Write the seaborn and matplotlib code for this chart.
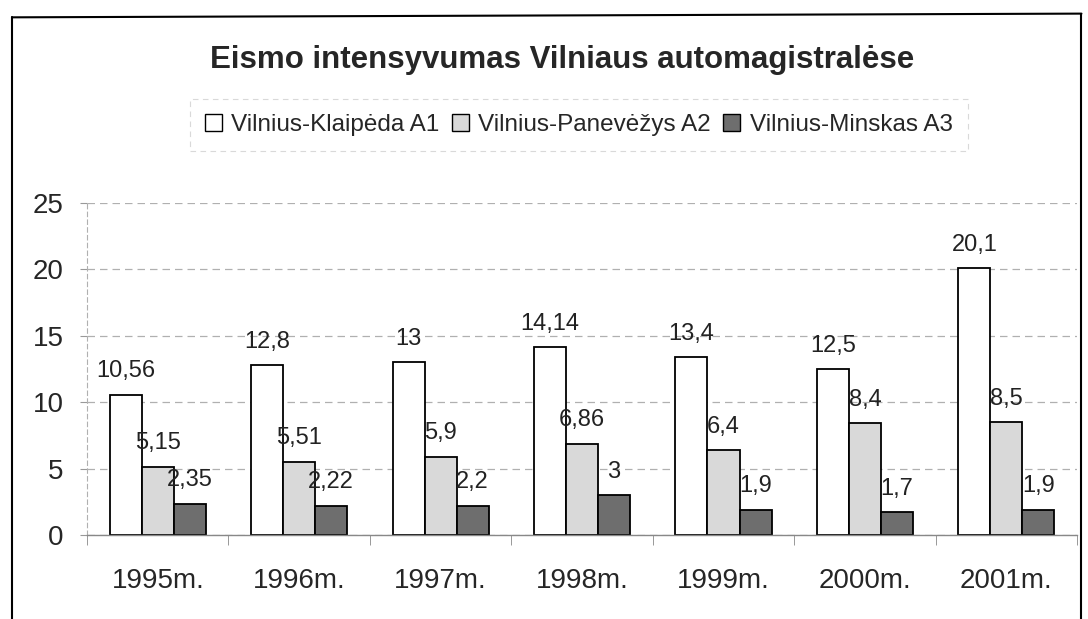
"""Eismo intensyvumas Vilniaus automagistralėse - grouped bar chart."""

import matplotlib

matplotlib.use("Agg")

import matplotlib.pyplot as plt
import pandas as pd
import seaborn as sns
from matplotlib.lines import Line2D
from matplotlib.patches import Patch

YEARS = ["1995m.", "1996m.", "1997m.", "1998m.", "1999m.", "2000m.", "2001m."]
SERIES = ["Vilnius-Klaipėda A1", "Vilnius-Panevėžys A2", "Vilnius-Minskas A3"]
A1 = [10.56, 12.8, 13, 14.14, 13.4, 12.5, 20.1]
A2 = [5.15, 5.51, 5.9, 6.86, 6.4, 8.4, 8.5]
A3 = [2.35, 2.22, 2.2, 3, 1.9, 1.7, 1.9]
COLORS = ["#ffffff", "#d9d9d9", "#6e6e6e"]

sns.set_style("white")
plt.rcParams["font.family"] = ["Liberation Sans", "DejaVu Sans"]

rows = []
for name, values in zip(SERIES, [A1, A2, A3]):
    for year, v in zip(YEARS, values):
        rows.append({"year": year, "series": name, "value": v})
df = pd.DataFrame(rows)

fig = plt.figure(figsize=(10.88, 6.19), dpi=100)
ax = fig.add_axes([0.080, 0.1357, 0.910, 0.5363])

sns.barplot(
    data=df,
    x="year",
    y="value",
    hue="series",
    hue_order=SERIES,
    order=YEARS,
    palette=COLORS,
    width=0.68,
    edgecolor="black",
    linewidth=1.3,
    saturation=1,
    legend=False,
    ax=ax,
)

for container in ax.containers:
    labels = [f"{b.get_height():g}".replace(".", ",") for b in container]
    ax.bar_label(container, labels=labels, padding=9, fontsize=17, color="#222222")

ax.set_xlim(-0.5, len(YEARS) - 0.5)
ax.set_ylim(0, 25)
ax.set_yticks([0, 5, 10, 15, 20, 25])
ax.set_xlabel("")
ax.set_ylabel("")

ax.yaxis.grid(True, color="#b0b0b0", linestyle=(0, (6, 4)), linewidth=0.9)
ax.set_axisbelow(True)
for side in ["top", "right"]:
    ax.spines[side].set_visible(False)
ax.spines["left"].set_color("#b0b0b0")
ax.spines["left"].set_linestyle((0, (4, 3)))
ax.spines["bottom"].set_color("#888888")
ax.spines["bottom"].set_linewidth(1.0)

ax.tick_params(axis="y", labelsize=20, length=5, color="#999999", direction="out", pad=12, left=True)
ax.tick_params(axis="x", which="major", labelsize=20, length=0, pad=24)
ax.set_xticks([i + 0.5 for i in range(-1, len(YEARS))], minor=True)
ax.tick_params(axis="x", which="minor", length=7, color="#888888", direction="out", bottom=True)

fig.text(
    0.517,
    0.903,
    "Eismo intensyvumas Vilniaus automagistralėse",
    ha="center",
    va="center",
    fontsize=22.5,
    fontweight="bold",
)

handles = [Patch(facecolor=c, edgecolor="black", linewidth=1.0) for c in COLORS]
leg = fig.legend(
    handles,
    SERIES,
    loc="center",
    bbox_to_anchor=(0.532, 0.798),
    ncol=3,
    fontsize=17.5,
    handlelength=0.7,
    handleheight=0.7,
    handletextpad=0.4,
    columnspacing=0.5,
    frameon=True,
    fancybox=False,
    borderpad=0.6,
)
leg.get_frame().set_edgecolor("#d0d0d0")
leg.get_frame().set_linestyle((0, (5, 4)))
leg.get_frame().set_linewidth(0.8)

# outer frame of the scanned chart
fig.add_artist(Line2D([0.011, 0.011], [0.972, 0.0], color="black", linewidth=1.5))
fig.add_artist(Line2D([0.011, 0.994], [0.972, 0.978], color="black", linewidth=1.5))
fig.add_artist(Line2D([0.994, 0.994], [0.978, 0.0], color="black", linewidth=1.5))

fig.savefig("out.png", dpi=100)
